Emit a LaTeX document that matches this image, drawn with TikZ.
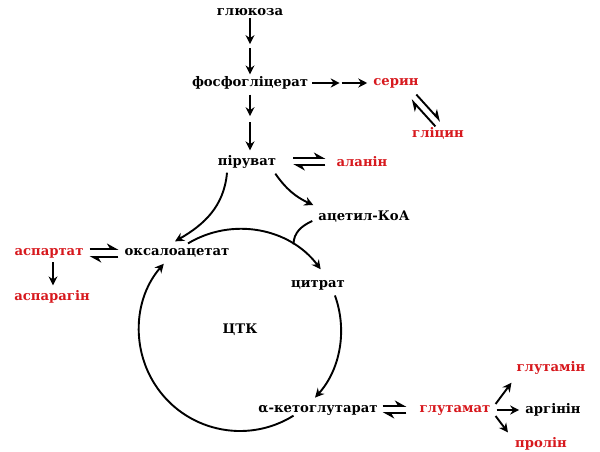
\documentclass[tikz,border=0pt]{standalone}
\usepackage{fontspec}
\setmainfont{DejaVu Serif}
\usetikzlibrary{arrows.meta,calc}
\definecolor{aminored}{RGB}{215,25,30}
\begin{document}
\begin{tikzpicture}[x=1pt,y=1pt,
  lbl/.style={font=\bfseries\fontsize{13.2}{15}\selectfont, inner sep=0pt, text=black},
  amino/.style={lbl, text=aminored},
  arr/.style={-{Stealth[length=9pt,width=9pt]}, line width=1.9pt},
  fwd/.style={-{Stealth[left,length=10pt,width=11pt]}, line width=1.9pt},
]
\useasboundingbox (0,0) rectangle (600,451);
% nodes
\node[lbl]   (glu)  at (250,439) {глюкоза};
\node[lbl]   (pg)   at (250,368) {фосфогліцерат};
\node[amino] (ser)  at (396,368) {серин};
\node[amino] (gly)  at (438,318) {гліцин};
\node[lbl]   (pyr)  at (247,289) {піруват};
\node[amino] (ala)  at (362,289) {аланін};
\node[lbl]   (acoa) at (364,234) {ацетил-КоА};
\node[lbl]   (oaa)  at (177,198) {оксалоацетат};
\node[amino] (asp)  at (49,198)  {аспартат};
\node[amino] (asn)  at (52,154)  {аспарагін};
\node[lbl]   (cit)  at (318,166) {цитрат};
\node[lbl]   (tca)  at (240,121) {ЦТК};
\node[lbl]   (akg)  at (318,41)  {α-кетоглутарат};
\node[amino] (glut) at (455,41)  {глутамат};
\node[amino] (gln)  at (551,83)  {глутамін};
\node[lbl]   (arg)  at (553,41)  {аргінін};
\node[amino] (pro)  at (541,7)   {пролін};

% glucose -> phosphoglycerate (two steps)
\path (glu.south) -- (pg.north) coordinate[pos=0.5] (m1);
\draw[arr, shorten <=2pt, shorten >=2pt] (glu) -- (m1);
\draw[arr, shorten <=2pt, shorten >=2pt] (m1) -- (pg);
% phosphoglycerate -> pyruvate
\coordinate (pyrtop) at (pg.south |- pyr.north);
\path (pg.south) -- (pyrtop) coordinate[pos=0.45] (m2);
\draw[arr, shorten <=5pt, shorten >=3pt] (pg.south) -- (m2);
\draw[arr, shorten <=3pt, shorten >=5pt] (m2) -- (pyrtop);
% phosphoglycerate -> serine
\path (pg.east) -- (ser.west) coordinate[pos=0.5] (m3);
\draw[arr, shorten <=4pt, shorten >=1pt] (pg.east) -- (m3);
\draw[arr, shorten <=1pt, shorten >=6pt] (m3) -- (ser.west);

% serine <-> glycine
\coordinate (d1) at ($(ser.south east)+(-5,-9)$);
\coordinate (d2) at ($(gly.north)+(0,3)$);
\draw[fwd] ($(d1)+(2.6,2.5)$) -- ($(d2)+(2.6,2.5)$);
\draw[fwd] ($(d2)+(-2.6,-2.5)$) -- ($(d1)+(-2.6,-2.5)$);

% pyruvate <-> alanine
\draw[fwd, shorten <=17pt, shorten >=11pt] ([yshift=4]pyr.east) -- ([yshift=4]ala.west);
\draw[fwd, shorten <=11pt, shorten >=17pt] ([yshift=-3]ala.west) -- ([yshift=-3]pyr.east);

% pyruvate -> acetyl-CoA
\draw[arr] ([xshift=-1,yshift=-5]pyr.south east) to[out=-55,in=155] ([xshift=-5,yshift=6]acoa.north west);
% pyruvate -> oxaloacetate
\draw[arr] ([xshift=-20,yshift=-4]pyr.south) to[out=-95,in=30] ([xshift=-2,yshift=7]oaa.north);

% TCA cycle
\coordinate (C) at (tca);
\coordinate (a1) at ($(C)+(121:101)$);
\coordinate (a2) at ($(C)+(20:101)$);
\coordinate (a3) at ($(C)+(-58:101)$);
\coordinate (aj) at ($(C)+(58:101)$);
\draw[arr] (a1) arc[start angle=121,end angle=37,radius=101];
\draw[arr] (a2) arc[start angle=20,end angle=-42,radius=101];
\draw[arr] (a3) arc[start angle=-58,end angle=-221,radius=101];
% acetyl-CoA joins the cycle
\draw[line width=1.9pt] ([xshift=-6,yshift=2]acoa.south west) to[out=205,in=90] (aj);

% aspartate <-> oxaloacetate
\draw[fwd, shorten <=6pt, shorten >=6pt] ([yshift=4]asp.east) -- ([yshift=4]oaa.west);
\draw[fwd, shorten <=6pt, shorten >=6pt] ([yshift=-4]oaa.west) -- ([yshift=-4]asp.east);
% aspartate -> asparagine
\draw[arr, shorten <=4pt, shorten >=5pt] ([xshift=4]asp.south) -- ([xshift=1]asn.north);

% alpha-ketoglutarate <-> glutamate
\draw[fwd, shorten <=5pt, shorten >=13pt] ([yshift=4]akg.east) -- ([yshift=4]glut.west);
\draw[fwd, shorten <=13pt, shorten >=5pt] ([yshift=-3]glut.west) -- ([yshift=-3]akg.east);

% glutamate -> products
\draw[arr] ([xshift=5,yshift=6]glut.east) -- ([xshift=-5,yshift=-8]gln.south west);
\draw[arr, shorten <=6pt, shorten >=6pt] (glut.east) -- (arg.west);
\draw[arr] ([xshift=5,yshift=-6]glut.east) -- ([xshift=-7,yshift=5]pro.north west);
\end{tikzpicture}
\end{document}
